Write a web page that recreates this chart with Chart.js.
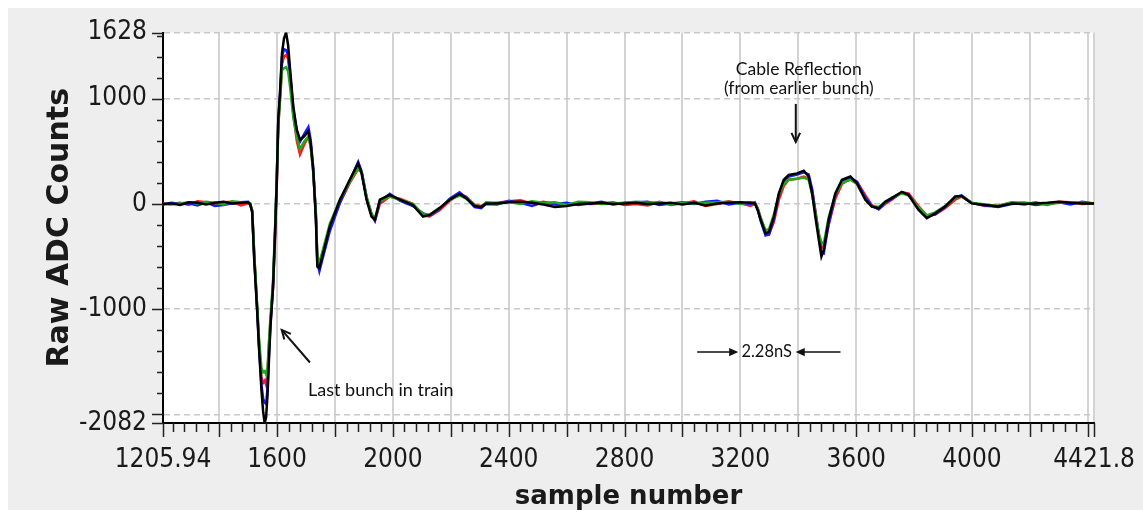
<!DOCTYPE html>
<html><head><meta charset="utf-8">
<script src="https://cdn.jsdelivr.net/npm/chart.js@4.4.1/dist/chart.umd.min.js"></script>
<style>html,body{margin:0;padding:0;background:#fff;}#wrap{width:1143px;height:514px;}</style>
</head><body><div id="wrap"><canvas id="c" width="1143" height="514"></canvas></div>
<script>
// ---------- DATA ----------
const sampleX = [
  1206, 1235, 1265, 1295, 1325, 1355, 1385, 1415, 1445, 1475, 1500, 1507,
  1514, 1521, 1531, 1538, 1546, 1552, 1557, 1562, 1567, 1572,
  1577, 1586, 1593, 1599, 1604, 1610, 1617, 1624, 1631, 1638,
  1645, 1656, 1668, 1679, 1693, 1708, 1716, 1725, 1734, 1739,
  1746, 1759, 1782, 1817, 1851, 1880, 1892, 1909, 1926, 1938,
  1955, 1989, 2024, 2069, 2104, 2127, 2161, 2196, 2230, 2253,
  2282, 2305, 2322,
  2360, 2400, 2440, 2480, 2520, 2560, 2600, 2640, 2680, 2720, 2760, 2800,
  2840, 2880, 2920, 2960, 3000, 3040, 3080, 3120, 3160, 3200, 3235, 3250,
  3260, 3270, 3287, 3299, 3316, 3333, 3350, 3367, 3396, 3419,
  3436, 3448, 3459, 3471, 3480, 3488, 3505, 3528, 3551, 3580,
  3603, 3632, 3654, 3678, 3700, 3723, 3758, 3781, 3815, 3844,
  3873, 3907, 3942, 3964, 3999, 4045, 4091, 4137, 4180, 4220,
  4260, 4300, 4340, 4380, 4421.8
];
const blackCounts = [
  0, 5, -10, 15, 10, -5, 10, 20, 5, 10, 15, 0,
  -80, -530, -1010, -1390, -1770, -1980, -2082, -2030, -1810, -1480,
  -1170, -790, -280, 230, 800, 1055, 1435, 1575, 1628, 1510,
  1275, 925, 705, 610, 640, 690, 575, 320, -150, -595,
  -610, -470, -215, 40, 230, 385, 290, 40, -120, -150,
  40, 85, 40, -10, -120, -105, -40, 40, 95, 55,
  -20, -30, 5,
  5, 15, 20, 10, -5, -30, -20, 0, 5, 10, 0, 5,
  10, 0, 5, 10, -5, 10, -15, 5, 10, 15, 10, 5,
  -60, -150, -280, -265, -120, 100, 230, 275, 290, 316,
  260, 100, -120, -340, -500, -440, -150, 100, 230, 260,
  195, 40, -25, -40, 20, 55, 115, 85, -55, -135,
  -90, -25, 70, 75, 5, -10, -25, 5, 0, 5,
  10, 20, 10, 5, 5
];
const redCounts = [
  5, 0, 10, -10, 25, 15, -5, 15, 20, -15, 5, 0,
  -60, -480, -980, -1340, -1650, -1700, -1680, -1720, -1600, -1350,
  -1120, -800, -330, 180, 720, 1000, 1330, 1400, 1415, 1380,
  1200, 850, 600, 470, 560, 640, 560, 300, -100, -520,
  -560, -450, -230, 10, 200, 330, 300, 60, -100, -160,
  0, 70, 50, 0, -110, -120, -60, 30, 90, 70,
  -10, -20, 10,
  10, 25, 35, 5, 20, -5, -15, 10, 0, 5, 15, -10,
  0, -15, 20, -10, 5, 25, -20, 0, 25, 5, -20, 0,
  -40, -130, -270, -290, -170, 40, 170, 230, 240, 260,
  240, 130, -60, -280, -400, -420, -200, 50, 190, 240,
  210, 80, -10, -50, 0, 40, 110, 100, -20, -110,
  -100, -40, 40, 70, 10, -20, -15, 10, -5, 15,
  -10, 20, 15, 0, 5
];
const blueCounts = [
  -5, 10, 0, 5, -15, 15, -20, -10, 5, 15, 20, -10,
  -70, -500, -990, -1370, -1720, -1850, -1890, -1900, -1750, -1420,
  -1150, -770, -260, 240, 790, 1030, 1400, 1470, 1460, 1420,
  1230, 900, 690, 590, 660, 730, 610, 340, -120, -560,
  -640, -500, -260, 10, 220, 400, 310, 60, -100, -160,
  20, 95, 30, -20, -90, -110, -50, 50, 110, 60,
  -30, -40, 0,
  -5, 30, 10, -20, 15, 0, 10, -10, 5, 20, -5, 10,
  15, 20, -10, 5, 15, 0, 20, 30, -5, 10, 0, 15,
  -50, -160, -300, -290, -140, 80, 210, 260, 280, 300,
  280, 140, -80, -300, -460, -470, -190, 80, 220, 250,
  210, 60, -20, -50, 10, 50, 110, 90, -40, -120,
  -100, -30, 60, 80, 10, -15, -30, 0, 10, -10,
  5, 15, -5, 20, 5
];
const greenCounts = [
  0, -5, 5, 15, 5, 20, 10, -5, 25, 15, 10, 5,
  -60, -470, -960, -1300, -1560, -1600, -1590, -1620, -1560, -1300,
  -1080, -730, -220, 260, 760, 980, 1270, 1290, 1300, 1260,
  1110, 820, 640, 520, 590, 640, 540, 300, -90, -500,
  -560, -430, -190, 40, 210, 340, 300, 70, -90, -140,
  30, 70, 40, 0, -100, -100, -40, 40, 80, 50,
  -10, -30, 15,
  0, 20, 0, 25, 10, 15, -10, 20, 15, 0, 5, 10,
  20, 10, 15, 0, 10, 5, 10, 15, 20, 0, 15, 10,
  -50, -130, -250, -240, -100, 90, 190, 230, 240, 250,
  230, 90, -80, -290, -360, -380, -130, 90, 200, 230,
  190, 40, -20, -30, 15, 60, 100, 80, -30, -110,
  -80, -20, 60, 70, 10, -5, -20, 15, 10, 5,
  0, 10, 15, 10, 5
];
const xLabelTicks = [1205.94, 1600, 2000, 2400, 2800, 3200, 3600, 4000, 4421.8];
const xGridTicks = [1400, 1600, 1800, 2000, 2200, 2400, 2600, 2800, 3000, 3200, 3400, 3600, 3800, 4000, 4200, 4400, 4421.8];
const yLabelTicks = [-2082, -1000, 0, 1000, 1628];
const yGridTicks = [-2000, -1000, 0, 1000, 1628];

// annotations (data coordinates)
const noteTexts = ['Cable Reflection', '(from earlier bunch)', 'Last bunch in train', '2.28nS'];
const noteX = [3402, 3402, 1707, 3291];
const noteY = [1282, 1102, -1773, -1408];
const noteAlign = ['center', 'center', 'left', 'center'];
const noteSize = [17.5, 17.5, 18, 16.5];
const arrowX1 = [3391.5, 1713.5, 3051, 3546];
const arrowY1 = [950, -1507, -1408, -1408];
const arrowX2 = [3391.5, 1616, 3193, 3391];
const arrowY2 = [589, -1197, -1408, -1408];
const arrowFilled = [false, false, true, true];

// ---------- CHART ----------
const xTickAll = Array.from(new Set([...xLabelTicks, ...xGridTicks])).sort((a, b) => a - b);
const yTickAll = Array.from(new Set([...yLabelTicks, ...yGridTicks])).sort((a, b) => a - b);
const pts = arr => sampleX.map((x, i) => ({x: x, y: arr[i]}));

const tickFont = {family: "'DejaVu Sans Condensed', 'Liberation Sans Narrow', 'DejaVu Sans', sans-serif", size: 26};

const bgPlugin = {
  id: 'bg',
  beforeDraw(chart) {
    const c = chart.ctx, a = chart.chartArea;
    c.save();
    c.fillStyle = '#ffffff';
    c.fillRect(0, 0, chart.width, chart.height);
    c.fillStyle = '#eeeeee';
    c.fillRect(8, 8, chart.width - 8, 502);
    c.fillStyle = '#ffffff';
    c.fillRect(a.left, a.top, a.right - a.left, a.bottom - a.top);
    c.restore();
  }
};

const tickPlugin = {
  id: 'minorTicks',
  afterDraw(chart) {
    const c = chart.ctx, xs = chart.scales.x, ys = chart.scales.y, a = chart.chartArea;
    c.save();
    c.strokeStyle = '#222';
    c.lineWidth = 1.5;
    c.beginPath();
    for (let v = 1240; v <= 4400; v += 40) {
      const px = Math.round(xs.getPixelForValue(v)) + 0.5;
      const len = (v % 200 === 0) ? 14 : 9;
      c.moveTo(px, a.bottom); c.lineTo(px, a.bottom + len);
    }
    [xLabelTicks[0], xLabelTicks[xLabelTicks.length - 1]].forEach(v => {
      const px = Math.round(xs.getPixelForValue(v)) + 0.5;
      c.moveTo(px, a.bottom); c.lineTo(px, a.bottom + 14);
    });
    for (let v = -2000; v <= 1600; v += 200) {
      const py = Math.round(ys.getPixelForValue(v)) + 0.5;
      const len = (v % 1000 === 0) ? 11 : 6;
      c.moveTo(a.left, py); c.lineTo(a.left - len, py);
    }
    [yLabelTicks[0], yLabelTicks[yLabelTicks.length - 1]].forEach(v => {
      const py = Math.round(ys.getPixelForValue(v)) + 0.5;
      c.moveTo(a.left, py); c.lineTo(a.left - 11, py);
    });
    c.stroke();
    c.restore();
  }
};

function drawArrow(c, x1, y1, x2, y2, filled) {
  const ang = Math.atan2(y2 - y1, x2 - x1);
  const L = 10, W = filled ? 0.42 : 0.45;
  c.beginPath();
  c.moveTo(x1, y1);
  c.lineTo(filled ? x2 - Math.cos(ang) * L * 0.8 : x2, filled ? y2 - Math.sin(ang) * L * 0.8 : y2);
  c.stroke();
  const ax = x2 - Math.cos(ang - W) * L, ay = y2 - Math.sin(ang - W) * L;
  const bx = x2 - Math.cos(ang + W) * L, by = y2 - Math.sin(ang + W) * L;
  c.beginPath();
  if (filled) {
    c.moveTo(x2, y2); c.lineTo(ax, ay); c.lineTo(bx, by); c.closePath(); c.fill();
  } else {
    c.moveTo(ax, ay); c.lineTo(x2, y2); c.lineTo(bx, by); c.stroke();
  }
}

const notePlugin = {
  id: 'notes',
  afterDraw(chart) {
    const c = chart.ctx, xs = chart.scales.x, ys = chart.scales.y;
    c.save();
    c.fillStyle = '#111';
    c.textBaseline = 'middle';
    noteTexts.forEach((t, i) => {
      c.font = noteSize[i] + "px Lato, 'Open Sans', sans-serif";
      c.textAlign = noteAlign[i];
      c.fillText(t, xs.getPixelForValue(noteX[i]), ys.getPixelForValue(noteY[i]));
    });
    c.strokeStyle = '#111';
    c.fillStyle = '#111';
    arrowX1.forEach((v, i) => {
      c.lineWidth = arrowFilled[i] ? 1.5 : 2;
      drawArrow(c, xs.getPixelForValue(v), ys.getPixelForValue(arrowY1[i]),
        xs.getPixelForValue(arrowX2[i]), ys.getPixelForValue(arrowY2[i]), arrowFilled[i]);
    });
    c.restore();
  }
};

const mk = (label, arr, color) => ({
  label: label, data: pts(arr), borderColor: color, backgroundColor: color,
  borderWidth: 2.5, pointRadius: 0, tension: 0, fill: false
});

new Chart(document.getElementById('c'), {
  type: 'line',
  data: {
    datasets: [
      mk('black', blackCounts, '#000000'),
      mk('green', greenCounts, '#1faa1f'),
      mk('blue', blueCounts, '#1a1aff'),
      mk('red', redCounts, '#ff1a1a')
    ]
  },
  options: {
    responsive: false,
    devicePixelRatio: 1,
    animation: false,
    layout: {padding: {left: 0, top: 32.6, right: 46.3, bottom: 0}},
    plugins: {legend: {display: false}, tooltip: {enabled: false}},
    scales: {
      x: {
        type: 'linear', min: 1205.94, max: 4421.8,
        afterBuildTicks: s => { s.ticks = xTickAll.map(v => ({value: v})); },
        afterFit: s => { s.height = 91; },
        ticks: {
          autoSkip: false, maxRotation: 0, padding: 8, color: '#1a1a1a', font: tickFont,
          callback: v => xLabelTicks.includes(v) ? String(v) : ''
        },
        grid: {
          color: ctx => (ctx.tick && xGridTicks.includes(ctx.tick.value)) ? '#d3d3d3' : 'rgba(0,0,0,0)',
          lineWidth: 2, drawTicks: true, tickLength: 14, tickColor: 'rgba(0,0,0,0)'
        },
        border: {display: true, color: '#000', width: 2},
        title: {
          display: true, text: 'sample number', color: '#1a1a1a',
          font: {family: "'DejaVu Sans', sans-serif", size: 26, weight: 'bold'},
          padding: {top: 0, bottom: 1.4}
        }
      },
      y: {
        type: 'linear', min: -2082, max: 1628,
        afterBuildTicks: s => { s.ticks = yTickAll.map(v => ({value: v})); },
        afterFit: s => { s.width = 163; },
        ticks: {
          autoSkip: false, padding: 5, color: '#1a1a1a', font: tickFont,
          callback: v => yLabelTicks.includes(v) ? String(v) : ''
        },
        grid: {
          color: ctx => (ctx.tick && yGridTicks.includes(ctx.tick.value)) ? '#c8c8c8' : 'rgba(0,0,0,0)',
          lineWidth: 1.5, drawTicks: true, tickLength: 11, tickColor: 'rgba(0,0,0,0)'
        },
        border: {display: true, color: '#000', width: 2, dash: [6, 4]},
        title: {
          display: true, text: 'Raw ADC Counts', color: '#1a1a1a',
          font: {family: "'DejaVu Sans', sans-serif", size: 30, weight: 'bold'},
          padding: {top: 42, bottom: 0}
        }
      }
    }
  },
  plugins: [bgPlugin, tickPlugin, notePlugin]
});
</script></body></html>
